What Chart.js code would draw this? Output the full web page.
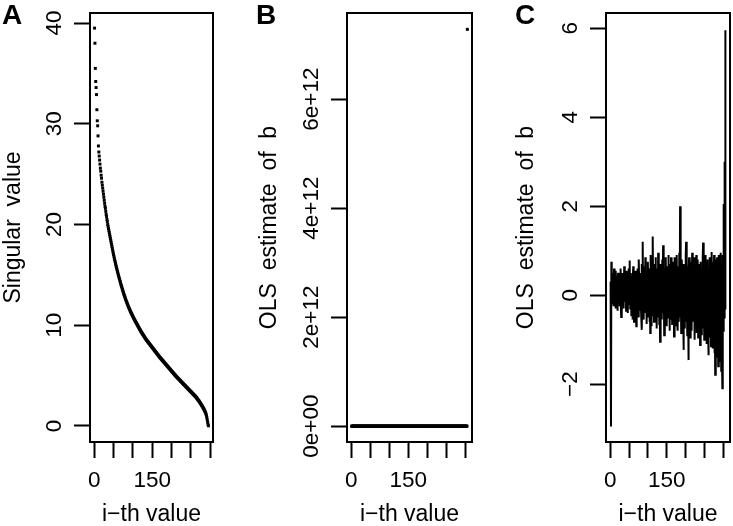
<!DOCTYPE html>
<html>
<head>
<meta charset="utf-8">
<script src="https://cdn.jsdelivr.net/npm/chart.js@4.4.0/dist/chart.umd.min.js"></script>
<style>
html, body { margin: 0; padding: 0; background: #fff; }
#wrap { position: relative; width: 733px; height: 526px; overflow: hidden; }
#wrap canvas { position: absolute; top: 0; }
.tag { position: absolute; top: 1px; font: bold 28px "Liberation Sans", Arial, sans-serif; line-height: 28px; color: #000; }
</style>
</head>
<body>
<div id="wrap">
  <canvas id="chartA" width="250" height="526" style="left:0px"></canvas>
  <canvas id="chartB" width="250" height="526" style="left:256px"></canvas>
  <canvas id="chartC" width="220" height="526" style="left:513px"></canvas>
  <div class="tag" style="left:2px">A</div>
  <div class="tag" style="left:256px">B</div>
  <div class="tag" style="left:515px">C</div>
</div>
<script>
// singular values, i = 1..295
const singularValues = [
  39.5, 38.0, 35.5, 34.2, 33.6, 32.9, 31.4, 30.3, 29.8, 28.8, 27.8, 27.2,
  26.8, 26.4, 26.0, 25.6, 25.3, 24.9, 24.6, 24.2, 23.9, 23.6, 23.3, 23.0, 22.7, 22.4, 22.1, 21.8, 21.6, 21.3, 21.0, 20.8, 20.5, 20.3, 20.0,
  19.8, 19.6, 19.4, 19.2, 19.0, 18.8, 18.6, 18.4, 18.2, 18.0, 17.8, 17.6, 17.4, 17.2,
  17.02, 16.84, 16.66, 16.49, 16.32, 16.15, 15.99, 15.83, 15.67, 15.51, 15.36, 15.21, 15.06, 14.91, 14.77, 14.63, 14.49, 14.35, 14.21, 14.08, 13.95, 13.82, 13.69, 13.56, 13.43, 13.3,
  13.18, 13.06, 12.94, 12.83, 12.72, 12.61, 12.5, 12.39, 12.29, 12.19, 12.09, 11.99, 11.89, 11.8, 11.71, 11.62, 11.53, 11.44, 11.35, 11.27, 11.19, 11.11, 11.03, 10.95, 10.87,
  10.79, 10.71, 10.63, 10.56, 10.49, 10.42, 10.35, 10.28, 10.21, 10.14, 10.07, 10.0, 9.93, 9.86, 9.79, 9.72, 9.65, 9.58, 9.51, 9.44, 9.37, 9.31, 9.25, 9.19, 9.13, 9.07,
  9.01, 8.95, 8.89, 8.83, 8.77, 8.71, 8.65, 8.59, 8.54, 8.49, 8.44, 8.39, 8.34, 8.29, 8.24, 8.19, 8.14, 8.09, 8.04, 7.99,
  7.94, 7.89, 7.84, 7.79, 7.74, 7.69, 7.64, 7.59, 7.54, 7.49, 7.44, 7.39, 7.34, 7.29, 7.24, 7.19, 7.14, 7.09, 7.04, 6.99, 6.94, 6.89, 6.84,
  6.8, 6.75, 6.71, 6.66, 6.62, 6.57, 6.53, 6.48, 6.44, 6.39, 6.35, 6.3, 6.26, 6.21, 6.17, 6.12, 6.08, 6.03, 5.99, 5.94,
  5.9, 5.85, 5.81, 5.76, 5.72, 5.67, 5.63, 5.58, 5.54, 5.49, 5.45, 5.4, 5.36, 5.31, 5.27, 5.22, 5.18, 5.13, 5.09, 5.04, 5.0, 4.95, 4.91,
  4.87, 4.83, 4.79, 4.75, 4.71, 4.67, 4.63, 4.59, 4.55, 4.51, 4.47, 4.43, 4.39, 4.35, 4.31, 4.27, 4.23, 4.19, 4.15, 4.11,
  4.07, 4.03, 3.99, 3.95, 3.91, 3.87, 3.83, 3.79, 3.75, 3.71, 3.67, 3.63, 3.59, 3.55, 3.51, 3.47, 3.43, 3.39, 3.35, 3.31, 3.27, 3.23,
  3.19, 3.15, 3.11, 3.07, 3.03, 2.99, 2.95, 2.91, 2.86, 2.81, 2.76, 2.71, 2.66, 2.61, 2.56, 2.51, 2.45, 2.39, 2.33, 2.27, 2.21, 2.15, 2.09, 2.03, 1.97, 1.9,
  1.83, 1.76, 1.69, 1.62, 1.54, 1.46, 1.37, 1.27, 1.15, 1.0, 0.82, 0.6, 0.38, 0.15, 0.02
];

// OLS estimates with all directions, i = 1..305 (all ~0 except the last one)
const olsAll = [
  0,0,0,0,0,0,0,0,0,0,0,0,0,0,0,0,0,0,0,0,
  0,0,0,0,0,0,0,0,0,0,0,0,0,0,0,0,0,0,0,0,
  0,0,0,0,0,0,0,0,0,0,0,0,0,0,0,0,0,0,0,0,
  0,0,0,0,0,0,0,0,0,0,0,0,0,0,0,0,0,0,0,0,
  0,0,0,0,0,0,0,0,0,0,0,0,0,0,0,0,0,0,0,0,
  0,0,0,0,0,0,0,0,0,0,0,0,0,0,0,0,0,0,0,0,
  0,0,0,0,0,0,0,0,0,0,0,0,0,0,0,0,0,0,0,0,
  0,0,0,0,0,0,0,0,0,0,0,0,0,0,0,0,0,0,0,0,
  0,0,0,0,0,0,0,0,0,0,0,0,0,0,0,0,0,0,0,0,
  0,0,0,0,0,0,0,0,0,0,0,0,0,0,0,0,0,0,0,0,
  0,0,0,0,0,0,0,0,0,0,0,0,0,0,0,0,0,0,0,0,
  0,0,0,0,0,0,0,0,0,0,0,0,0,0,0,0,0,0,0,0,
  0,0,0,0,0,0,0,0,0,0,0,0,0,0,0,0,0,0,0,0,
  0,0,0,0,0,0,0,0,0,0,0,0,0,0,0,0,0,0,0,0,
  0,0,0,0,0,0,0,0,0,0,0,0,0,0,0,0,0,0,0,0,
  0,0,0,0, 7.28e12
];

// OLS estimates, panel C, i = 1..305
const olsC = [
  0.3, -2.95, 0.75, 0.1, 0.45, -0.2, 0.5, 0.05, -0.25, 0.6,
  0.15, -0.1, 0.35, -0.3, 0.55, 0.2, -0.05, 0.4, -0.35, 0.25,
  0.5, -0.15, 0.1, 0.45, -0.25, 0.3, 0.6, -0.1, -0.49, 0.35,
  0.05, 0.5, -0.2, 0.15, 0.4, -0.3, 0.65, 0.0, -0.15, 0.3,
  0.45, -0.35, 0.2, 0.55, -0.1, 0.1, -0.4, 0.35, 0.6, -0.2,
  0.25, 0.78, -0.3, 0.1, 0.5, -0.45, 0.2, 0.4, -0.55, 0.3,
  0.65, -0.2, -0.6, 0.35, 0.1, 0.55, -0.4, 0.2, -0.7, 0.45,
  0.3, -0.25, 0.6, 0.05, -0.5, 0.8, 0.15, -0.35, 0.5, -0.1,
  0.35, -0.45, 0.7, -0.78, 0.2, 1.2, -0.3, 0.4, -0.55, 0.65,
  0.1, -0.4, 0.85, -0.2, 0.3, -0.65, 0.55, 0.0, -0.5, 0.75,
  0.25, -0.3, 0.6, -0.6, 0.4, -0.85, 0.9, 0.1, -0.7, 0.5,
  -0.2, 0.35, 1.32, -0.45, 0.2, -0.6, 0.7, 0.05, -0.4, 0.85,
  -0.25, 0.45, -0.75, 0.6, 0.15, -0.5, 0.95, -0.3, 0.4, -0.65,
  0.3, -1.05, 0.7, -0.2, 0.55, -0.55, 0.25, 0.8, -0.4, 1.12,
  -0.35, 0.5, -0.9, 0.6, 0.1, -0.6, 0.85, -0.25, 0.4, -0.7,
  0.65, 0.0, -0.5, 0.9, -0.3, 0.45, -0.8, 0.7, 0.2, -0.55,
  0.85, -0.35, 0.5, -0.65, 0.3, 0.75, -0.45, 0.6, -0.93, 0.4,
  0.85, -0.3, 0.55, -0.7, 0.2, 0.9, -0.55, 0.45, -0.8, 0.65,
  0.1, -0.6, 0.95, -0.4, 2.0, -0.5, 0.6, -0.85, 0.35, 0.8,
  -0.65, 0.5, -0.3, -1.23, 0.7, 0.2, -0.75, 0.55, -0.4, 0.9,
  1.2, -0.6, 0.4, -0.9, 0.65, -0.2, -1.46, 0.5, 0.85, -0.7,
  0.3, -0.95, 0.75, -0.35, 0.6, -0.8, 0.95, 0.1, -0.6, 0.7,
  -0.45, 0.85, -1.0, 0.4, 0.65, -0.7, 0.2, 0.9, -0.85, 0.5,
  -0.4, 0.8, -0.95, 0.35, 0.7, -0.6, 0.55, -1.12, 0.75, -0.3,
  0.6, -0.9, 0.45, -0.55, 0.85, 1.18, -0.75, 0.3, -1.0, 0.65,
  0.2, -0.85, 0.9, -0.5, 0.6, -1.1, 0.4, 0.8, -0.7, -1.35,
  0.55, -0.6, 0.85, -0.95, 0.3, 0.7, -1.15, 0.5, 0.97, -0.8,
  0.45, -1.2, 0.75, -0.6, 0.9, -1.3, 0.35, -1.79, 0.8, -0.5,
  0.6, -1.4, 0.85, -0.9, 0.5, -1.6, 0.9, -0.7, 0.4, -1.5,
  0.75, -1.0, 0.95, -1.7, 0.5, -1.2, -2.09, 0.9, -0.8, 0.6,
  2.05, -0.5, 3.0, -0.3, 5.95
];

const xTickValues = [0, 50, 100, 150, 200, 250, 300];
const xTickText = ['0', '', '', '150', '', '', ''];
const yTicksA = [0, 10, 20, 30, 40];
const yTextA = ['0', '10', '20', '30', '40'];
const yTicksB = [0, 2e12, 4e12, 6e12];
const yTextB = ['0e+00', '2e+12', '4e+12', '6e+12'];
const yTicksC = [-2, 0, 2, 4, 6];
const yTextC = ['\u22122', '0', '2', '4', '6'];

const FONT = '"Liberation Sans", Arial, Helvetica, sans-serif';
const TICK_SIZE = 22.5;
Chart.defaults.font.family = FONT;
Chart.defaults.color = '#000';

const meas = document.createElement('canvas').getContext('2d');
meas.font = TICK_SIZE + 'px ' + FONT;

// put the rotated tick labels ~35.5px left of the box
function labelPad(labels) {
    const w = Math.max(...labels.map(t => meas.measureText(t).width));
    return 35.5 - 16 - w / 2;
}

function toPoints(values) {
    return values.map((v, i) => ({x: i + 1, y: v}));
}

const boxPlugin = {
    id: 'box',
    afterDraw(chart) {
        const {ctx, chartArea: a} = chart;
        ctx.save();
        ctx.strokeStyle = '#000';
        ctx.lineWidth = 2;
        ctx.strokeRect(a.left, a.top, a.right - a.left, a.bottom - a.top);
        ctx.restore();
    }
};

function makePanel(id, opts) {
    const ctx = document.getElementById(id).getContext('2d');
    return new Chart(ctx, {
        type: 'scatter',
        data: {datasets: [opts.dataset]},
        options: {
            responsive: false,
            animation: false,
            devicePixelRatio: 1,
            layout: {padding: {top: 13, right: opts.padRight, bottom: 0, left: 0}},
            plugins: {legend: {display: false}, tooltip: {enabled: false}},
            scales: {
                x: {
                    type: 'linear',
                    min: opts.xMin, max: opts.xMax,
                    afterBuildTicks: s => { s.ticks = xTickValues.map(v => ({value: v})); },
                    afterFit: s => { s.height = 84; s.paddingLeft = 0; s.paddingRight = 0; },
                    border: {display: false},
                    grid: {drawOnChartArea: false, drawTicks: true, tickLength: 16, tickWidth: 2, tickColor: '#000', color: '#000'},
                    ticks: {
                        autoSkip: false, minRotation: 0, maxRotation: 0, padding: 12,
                        font: {size: TICK_SIZE, lineHeight: 1},
                        callback: (v, i) => xTickText[i]
                    },
                    title: {display: true, text: 'i\u2212th value', font: {size: 23, lineHeight: 1}, padding: {top: 0, bottom: 0}}
                },
                y: {
                    type: 'linear',
                    min: opts.yMin, max: opts.yMax,
                    afterBuildTicks: s => { s.ticks = opts.yTicks.map(v => ({value: v})); },
                    afterFit: s => { s.width = opts.yWidth; s.paddingTop = 0; s.paddingBottom = 0; },
                    border: {display: false},
                    grid: {drawOnChartArea: false, drawTicks: true, tickLength: 16, tickWidth: 2, tickColor: '#000', color: '#000'},
                    ticks: {
                        autoSkip: false, minRotation: 90, crossAlign: 'center',
                        padding: labelPad(opts.yText),
                        font: {size: TICK_SIZE, lineHeight: 1},
                        callback: (v, i) => opts.yText[i]
                    },
                    title: {display: true, text: opts.yTitle, font: {size: 23, lineHeight: 1}, padding: {top: 2, bottom: 0}}
                }
            }
        },
        plugins: [boxPlugin]
    });
}

makePanel('chartA', {
    dataset: {data: toPoints(singularValues), pointStyle: 'rect', pointRadius: 2.1, pointBorderWidth: 0, backgroundColor: '#000'},
    xMin: -10.76, xMax: 306.8, yMin: -1.59, yMax: 41.0,
    yTicks: yTicksA, yText: yTextA, yWidth: 90, padRight: 37,
    yTitle: 'Singular  value'
});

makePanel('chartB', {
    dataset: {data: toPoints(olsAll), pointStyle: 'rect', pointRadius: 2.1, pointBorderWidth: 0, backgroundColor: '#000'},
    xMin: -11.2, xMax: 317.2, yMin: -0.29e12, yMax: 7.58e12,
    yTicks: yTicksB, yText: yTextB, yWidth: 91, padRight: 34,
    yTitle: 'OLS  estimate  of  b'
});

makePanel('chartC', {
    dataset: {data: toPoints(olsC), showLine: true, pointRadius: 0, borderColor: '#000', borderWidth: 2, tension: 0},
    xMin: -11.2, xMax: 317.2, yMin: -3.3, yMax: 6.34,
    yTicks: yTicksC, yText: yTextC, yWidth: 93, padRight: 3,
    yTitle: 'OLS  estimate  of  b'
});
</script>
</body>
</html>
